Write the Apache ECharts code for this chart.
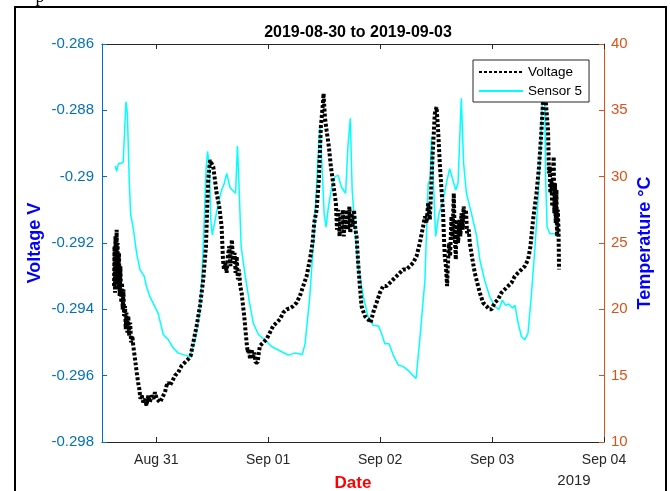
<!DOCTYPE html>
<html lang="en">
<head>
    <meta charset="UTF-8">
    <title>Voltage and Sensor 5</title>
    <script src="https://cdn.jsdelivr.net/npm/echarts@6/dist/echarts.min.js"></script>
    <style>
        html, body { margin: 0; padding: 0; background: #fff; }
        #chart1 { width: 670px; height: 491px; }
    </style>
</head>
<body>
<div id="chart1"></div>
<script type="text/javascript">
    // hours counted from 2019-08-30 00:00
    var xMin = 12.36, xMax = 120;
    var xTicks = [24, 48, 72, 96, 120];
    var xTickLabels = ['Aug 31', 'Sep 01', 'Sep 02', 'Sep 03', 'Sep 04'];

    // [hour, volts]
    var voltage = [
        [14.95,-0.2933],[15.05,-0.2921],[15.15,-0.2935],[15.25,-0.2918],[15.4,-0.2932],[15.5,-0.2916],
        [15.6,-0.2930],[15.7,-0.2920],[15.85,-0.2934],[16.0,-0.2923],[16.15,-0.2936],[16.3,-0.2927],
        [16.5,-0.2938],[16.65,-0.2932],[16.8,-0.2940],[16.95,-0.2934],[17.1,-0.2942],[17.3,-0.2939],
        [17.45,-0.2946],[17.6,-0.2941],[17.8,-0.2947],[18.0,-0.2942],[18.2,-0.2948],[18.4,-0.2944],
        [18.6,-0.2950],[18.85,-0.2948],[19.07,-0.2951],[19.44,-0.2955],[19.8,-0.2959],[20.1,-0.2962],
        [20.36,-0.2964],[20.6,-0.2967],[20.87,-0.2966],[21.2,-0.2968],[21.58,-0.2967],[21.9,-0.2969],
        [22.29,-0.2966],[22.6,-0.2968],[23.01,-0.2966],[23.4,-0.2967],[23.72,-0.2965],[24.1,-0.2967],
        [24.43,-0.2967],[24.8,-0.2968],[25.16,-0.2968],[25.5,-0.2966],[25.86,-0.2965],[26.2,-0.2963],
        [26.57,-0.2962],[26.9,-0.2963],[27.3,-0.2962],[28.01,-0.2960],[28.4,-0.2960],[28.71,-0.2959],
        [29.44,-0.2957],[30.15,-0.2956],[30.86,-0.2955],[31.37,-0.2954],[31.93,-0.2950],[32.66,-0.2945],
        [33.36,-0.2939],[34.07,-0.2931],[34.65,-0.2921],[34.93,-0.2909],[35.14,-0.2901],[35.51,-0.2895],
        [35.87,-0.28945],[36.21,-0.2897],[36.58,-0.2901],[36.94,-0.2905],[37.5,-0.2909],[38.01,-0.2915],
        [38.3,-0.2925],[38.51,-0.2928],[38.8,-0.2926],[39.09,-0.2929],[39.35,-0.2924],[39.64,-0.2921],
        [39.9,-0.2927],[40.2,-0.2919],[40.5,-0.2926],[40.8,-0.2923],[41.0,-0.2929],[41.23,-0.2924],
        [41.5,-0.2931],[41.72,-0.2928],[42.0,-0.2933],[42.3,-0.2935],[42.6,-0.2939],[42.86,-0.2942],
        [43.1,-0.2946],[43.37,-0.2950],[43.6,-0.2953],[43.86,-0.2952],[44.1,-0.2955],[44.44,-0.2952],
        [44.7,-0.2955],[45.0,-0.2953],[45.3,-0.2956],[45.73,-0.2956],[46.0,-0.2953],[46.22,-0.2951],
        [46.6,-0.2951],[46.93,-0.2950],[47.66,-0.2949],[48.36,-0.2947],[49.07,-0.2945],[49.8,-0.2944],
        [50.51,-0.2943],[51.21,-0.2941],[51.94,-0.2940],[52.65,-0.29397],[53.36,-0.2939],[54.09,-0.2938],
        [54.79,-0.2936],[55.5,-0.2933],[56.23,-0.2930],[56.94,-0.2925],[57.51,-0.2920],[57.86,-0.2914],
        [58.37,-0.2910],[58.86,-0.2901],[59.29,-0.2885],[59.66,-0.2879],[59.87,-0.28749],[60.15,-0.2882],
        [60.51,-0.2886],[61.01,-0.2891],[61.44,-0.2897],[61.93,-0.2902],[62.51,-0.2908],[62.75,-0.2916],
        [63.0,-0.2910],[63.3,-0.2918],[63.5,-0.2911],[63.73,-0.2917],[64.0,-0.2910],[64.2,-0.2918],
        [64.44,-0.2912],[64.7,-0.2916],[64.9,-0.2910],[65.14,-0.2916],[65.4,-0.2909],[65.6,-0.2917],
        [65.87,-0.2911],[66.1,-0.2915],[66.4,-0.2910],[66.7,-0.2916],[66.94,-0.2918],[67.29,-0.2926],
        [67.65,-0.2933],[68.01,-0.2939],[68.72,-0.2942],[69.43,-0.2943],[69.94,-0.2944],[70.5,-0.2941],
        [71.23,-0.2938],[71.94,-0.2935],[72.64,-0.2933],[73.37,-0.2933],[74.08,-0.2932],[74.79,-0.2931],
        [75.51,-0.2930],[76.22,-0.2929],[76.93,-0.2928],[77.66,-0.2928],[78.36,-0.2927],[79.07,-0.2926],
        [79.8,-0.2924],[80.51,-0.2920],[81.21,-0.2915],[81.6,-0.2912],[81.94,-0.2914],[82.3,-0.2908],
        [82.65,-0.2913],[82.9,-0.2905],[83.23,-0.2894],[83.72,-0.2881],[84.09,-0.2879],[84.43,-0.2886],
        [84.79,-0.2896],[85.16,-0.2904],[85.5,-0.2911],[85.7,-0.2919],[85.86,-0.2924],[86.1,-0.2927],
        [86.36,-0.2933],[86.5,-0.2927],[86.79,-0.2920],[87.0,-0.2924],[87.3,-0.2912],[87.5,-0.2919],
        [87.79,-0.2905],[88.0,-0.2918],[88.22,-0.2925],[88.4,-0.2913],[88.72,-0.2920],[89.0,-0.2913],
        [89.2,-0.2918],[89.44,-0.2911],[89.7,-0.2916],[89.9,-0.2909],[90.15,-0.2913],[90.4,-0.2910],
        [90.64,-0.2917],[91.0,-0.2916],[91.22,-0.2920],[91.8,-0.2925],[92.29,-0.2929],[93.0,-0.2933],
        [93.37,-0.2935],[94.07,-0.2938],[94.8,-0.2939],[95.36,-0.2940],[95.87,-0.2940],[96.58,-0.2938],
        [97.29,-0.2937],[98.01,-0.2935],[98.72,-0.2934],[99.43,-0.2933],[100.16,-0.2932],[100.87,-0.2930],
        [101.57,-0.2929],[102.3,-0.2928],[103.01,-0.2927],[103.72,-0.2925],[104.23,-0.2921],[104.79,-0.2913],
        [105.52,-0.2905],[106.07,-0.2897],[106.59,-0.2886],[106.93,-0.2877],[107.2,-0.2875],[107.5,-0.2877],
        [108.0,-0.2886],[108.2,-0.2899],[108.37,-0.2897],[108.5,-0.2905],[108.73,-0.2901],[108.9,-0.2909],
        [109.05,-0.2898],[109.22,-0.2894],[109.35,-0.2911],[109.5,-0.2902],[109.65,-0.2914],[109.8,-0.2904],
        [109.93,-0.2918],[110.1,-0.2910],[110.25,-0.2916],[110.36,-0.2928]
    ];

    // [hour, degC]
    var sensor5 = [
        [15.2,30.8],[15.5,30.4],[15.9,31.0],[16.4,31.0],[16.9,31.1],[17.2,31.0],[17.5,35.65],[17.8,34.8],
        [18.2,29.7],[18.5,27.2],[19.1,26.0],[19.8,24.2],[20.5,23.0],[21.4,22.5],[21.9,21.7],[22.7,20.9],
        [23.7,20.2],[24.4,19.7],[25.5,18.1],[26.6,17.7],[27.6,17.1],[28.7,16.7],[30.2,16.55],[31.2,16.4],
        [32.3,17.7],[33.2,19.7],[33.7,21.7],[34.2,26.0],[34.7,30.75],[35.0,31.9],[35.4,30.75],[35.7,26.7],
        [36.0,25.6],[36.6,26.7],[37.3,28.0],[38.0,29.0],[38.5,29.4],[39.1,30.25],[39.8,29.2],[40.5,28.9],
        [41.0,28.75],[41.4,32.3],[41.7,29.75],[42.2,24.7],[43.0,22.7],[43.9,20.7],[44.8,18.95],[45.9,18.1],
        [47.3,17.7],[48.7,17.2],[50.9,16.8],[52.3,16.55],[53.7,16.7],[55.3,16.6],[55.9,17.4],[56.9,20.9],
        [57.9,26.0],[58.6,31.0],[59.1,33.8],[59.4,31.8],[60.0,27.2],[60.4,26.2],[60.9,27.7],[61.6,29.2],
        [62.3,30.0],[63.0,30.1],[63.7,29.2],[64.6,28.75],[65.1,32.3],[65.6,34.4],[66.0,29.0],[66.6,26.0],
        [67.3,23.2],[68.4,20.95],[69.4,19.45],[70.5,18.8],[71.6,18.75],[72.3,18.2],[73.0,17.4],[73.9,17.4],
        [74.8,16.55],[75.9,15.8],[76.9,15.7],[78.0,15.4],[78.9,15.05],[79.7,14.8],[80.5,17.7],[81.6,22.2],
        [82.3,29.5],[82.7,29.75],[83.0,33.0],[83.4,29.75],[83.9,25.5],[84.6,27.2],[85.5,28.2],[86.2,29.5],
        [86.9,30.6],[87.6,29.75],[88.2,29.0],[88.7,29.5],[89.4,35.9],[89.9,31.0],[90.5,28.75],[91.6,27.2],
        [92.7,25.5],[93.4,23.7],[94.4,22.2],[95.5,20.95],[96.6,20.2],[97.5,20.0],[98.2,20.7],[98.9,20.3],
        [99.6,20.4],[100.4,20.1],[100.9,20.3],[101.6,18.95],[102.3,17.95],[103.0,17.7],[103.7,18.2],
        [104.4,20.95],[105.2,24.7],[105.9,28.5],[106.4,32.3],[106.8,35.8],[107.05,37.5],[107.3,35.8],
        [107.5,29.75],[107.8,26.2],[108.4,25.7],[109.4,25.7],[109.9,25.5],[110.4,25.85]
    ];

    var font = 'Liberation Sans, Arial, Helvetica, sans-serif';
    var myChart1 = echarts.init(document.getElementById('chart1'));

    myChart1.setOption({
        animation: false,
        textStyle: { fontFamily: font },
        title: {
            text: '2019-08-30 to 2019-09-03',
            left: 353,
            top: 20,
            textAlign: 'center',
            textStyle: { fontSize: 16, fontWeight: 'bold', color: '#000' }
        },
        legend: {
            orient: 'vertical',
            left: 473,
            top: 60,
            data: ['Voltage', 'Sensor 5'],
            itemWidth: 44,
            itemHeight: 14,
            itemGap: 5,
            padding: [5, 7, 4, 5],
            borderColor: '#262626',
            borderWidth: 1,
            backgroundColor: '#fff',
            itemStyle: { opacity: 0 },
            textStyle: { fontSize: 13.5, color: '#000', fontFamily: font }
        },
        grid: { left: 102, right: 66, top: 44, bottom: 49, outerBoundsMode: 'none' },
        graphic: [
            {
                type: 'rect',
                shape: { x: 15, y: 7, width: 651, height: 520 },
                style: { fill: 'none', stroke: '#000', lineWidth: 2 },
                silent: true
            },
            {
                type: 'text',
                x: 574, y: 481,
                style: {
                    text: '2019', fill: '#262626', font: '15px ' + font,
                    textAlign: 'center', textVerticalAlign: 'middle'
                }
            },
            {
                type: 'text',
                x: 40, y: -12,
                style: { text: 'p', fill: '#000', font: '18px Liberation Serif, serif', textAlign: 'center' }
            }
        ],
        xAxis: [
            {
                type: 'value',
                min: xMin,
                max: xMax,
                name: 'Date',
                nameLocation: 'middle',
                nameGap: 33,
                nameMoveOverlap: false,
                nameTextStyle: { color: '#ff0000', fontSize: 17, fontWeight: 'bold' },
                axisLine: { show: true, lineStyle: { color: '#262626', width: 1 } },
                axisTick: { show: true, inside: true, length: 5, customValues: xTicks,
                    lineStyle: { color: '#262626' } },
                axisLabel: {
                    customValues: xTicks,
                    margin: 11,
                    fontSize: 14,
                    color: '#262626',
                    formatter: function (v) { return xTickLabels[xTicks.indexOf(v)]; }
                },
                splitLine: { show: false }
            },
            {
                type: 'value',
                position: 'top',
                min: xMin,
                max: xMax,
                axisLine: { show: true, lineStyle: { color: '#262626', width: 1 } },
                axisTick: { show: true, inside: true, length: 5, customValues: xTicks,
                    lineStyle: { color: '#262626' } },
                axisLabel: { show: false },
                splitLine: { show: false }
            }
        ],
        yAxis: [
            {
                type: 'value',
                position: 'left',
                min: -0.298,
                max: -0.286,
                interval: 0.002,
                name: 'Voltage V',
                nameLocation: 'middle',
                nameRotate: 90,
                nameGap: 58,
                nameMoveOverlap: false,
                nameTextStyle: { color: '#0000ff', fontSize: 18, fontWeight: 'bold' },
                axisLine: { show: true, lineStyle: { color: '#0072BD' } },
                axisTick: { show: true, inside: true, length: 5, lineStyle: { color: '#0072BD' } },
                axisLabel: { color: '#0072BD', fontSize: 15, margin: 8 },
                splitLine: { show: false }
            },
            {
                type: 'value',
                position: 'right',
                min: 10,
                max: 40,
                interval: 5,
                name: 'Temperature °C',
                nameLocation: 'middle',
                nameRotate: 90,
                nameGap: 32,
                nameMoveOverlap: false,
                nameTextStyle: { color: '#0000ff', fontSize: 18, fontWeight: 'bold' },
                axisLine: { show: true, lineStyle: { color: '#D95319' } },
                axisTick: { show: true, inside: true, length: 5, lineStyle: { color: '#D95319' } },
                axisLabel: { color: '#D95319', fontSize: 15, margin: 7 },
                splitLine: { show: false }
            }
        ],
        series: [
            {
                name: 'Voltage',
                type: 'line',
                xAxisIndex: 0,
                yAxisIndex: 0,
                data: voltage,
                symbol: 'none',
                color: '#000',
                lineStyle: { color: '#000', width: 4, type: [3, 2], cap: 'butt' },
                z: 3
            },
            {
                name: 'Sensor 5',
                type: 'line',
                xAxisIndex: 0,
                yAxisIndex: 1,
                data: sensor5,
                symbol: 'none',
                color: '#00FFFF',
                lineStyle: { color: '#00FFFF', width: 1.5 },
                z: 2
            }
        ]
    });
</script>
</body>
</html>
